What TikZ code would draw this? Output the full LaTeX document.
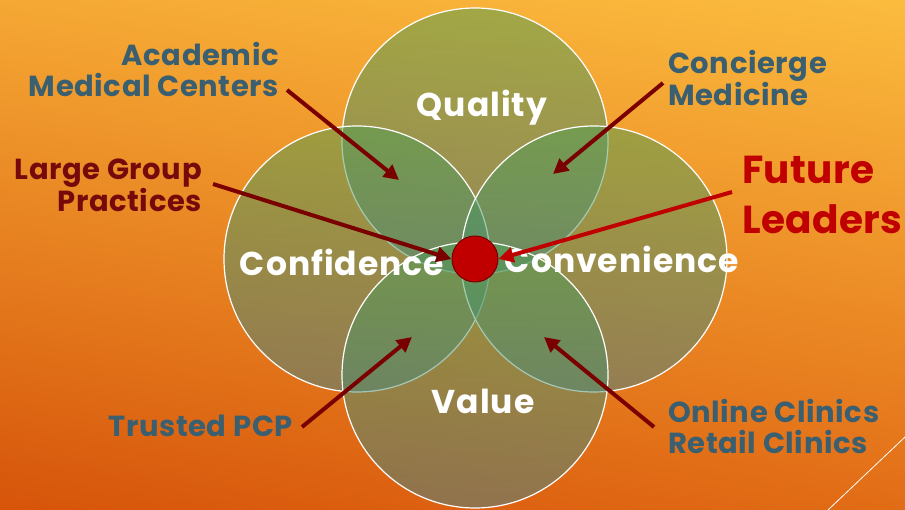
\documentclass[tikz,border=0pt]{standalone}
\usepackage{fontspec}
\setmainfont{Poppins}
\usetikzlibrary{arrows.meta,shadings}
\definecolor{slate}{RGB}{58,95,112}
\definecolor{maroon}{RGB}{118,10,10}
\definecolor{pointer}{RGB}{122,0,0}
\definecolor{futred}{RGB}{192,0,0}
\definecolor{vennTop}{RGB}{78,158,82}
\definecolor{vennBot}{RGB}{70,132,138}
\definecolor{bgUL}{RGB}{245,168,52}
\definecolor{bgUR}{RGB}{251,188,62}
\definecolor{bgLL}{RGB}{214,84,10}
\definecolor{bgLR}{RGB}{226,108,22}
\tikzset{
  ring/.style={circle,minimum size=266pt,inner sep=0pt,top color=vennTop,bottom color=vennBot,
    fill opacity=0.5,draw=white,draw opacity=1,line width=1.2pt},
  ringtext/.style={text=white,font=\fontsize{33}{35}\selectfont\bfseries\addfontfeature{LetterSpace=3},inner sep=0pt},
  tag/.style={font=\fontsize{29}{31}\selectfont\bfseries\addfontfeature{LetterSpace=2},inner sep=0pt},
  pointer/.style={draw=pointer,line width=4pt,-{Triangle[length=15pt,width=15pt]}},
}
\begin{document}
\begin{tikzpicture}[x=1pt,y=-1pt]
      \useasboundingbox (0,0) rectangle (905,510);
      \shade[upper left=bgUL,upper right=bgUR,lower left=bgLL,lower right=bgLR]
        (0,0) rectangle (905,510);
      \draw[white,line width=0.8pt] (828,510) -- (905,437);

      \node[ring] (quality) at (475,141) {};
      \node[ring] (confidence) at (357,259) {};
      \node[ring] (convenience) at (594,259) {};
      \node[ring] (value) at (475,375) {};

      \node[ringtext] (qualityL) at (482,108) {Quality};
      \node[ringtext] (confidenceL) at (342,262) {Confidence};
      \node[ringtext] (convenienceL) at (622,259) {Convenience};
      \node[ringtext] (valueL) at (483,401) {Value};

      \node[circle,minimum size=46pt,inner sep=0pt,fill=futred,draw=pointer,line width=1pt] (hub) at (475,259) {};

      \node[tag,text=slate,align=right,anchor=east] (academic) at (279,70) {Academic\\Medical Centers};
      \node[tag,text=maroon,align=right,anchor=east] (group) at (202,185) {Large Group\\Practices};
      \node[tag,text=slate,align=left,anchor=west] (concierge) at (668,78) {Concierge\\Medicine};
      \node[tag,text=futred,align=left,anchor=west,font=\fontsize{39}{50}\selectfont\bfseries\addfontfeature{LetterSpace=1}] (future) at (742,195) {Future\\Leaders};
      \node[tag,text=slate,anchor=east] (trusted) at (293,426) {Trusted PCP};
      \node[tag,text=slate,align=left,anchor=west] (online) at (668,427) {Online Clinics\\Retail Clinics};

      \coordinate (academicTail) at (287,90);
      \coordinate (academicTip) at (399,180);
      \coordinate (groupTail) at (213,184);
      \coordinate (conciergeTail) at (663,83);
      \coordinate (conciergeTip) at (553,174);
      \coordinate (futureTail) at (732,192);
      \coordinate (trustedTail) at (302,427);
      \coordinate (trustedTip) at (412,337);
      \coordinate (onlineTail) at (654,427);
      \coordinate (onlineTip) at (544,337);

      \draw[pointer] (academicTail) -- (academicTip);
      \draw[pointer] (groupTail) -- (hub.west);
      \draw[pointer] (conciergeTail) -- (conciergeTip);
      \draw[pointer,draw=futred] (futureTail) -- (hub.east);
      \draw[pointer] (trustedTail) -- (trustedTip);
      \draw[pointer] (onlineTail) -- (onlineTip);
     \end{tikzpicture}
\end{document}
